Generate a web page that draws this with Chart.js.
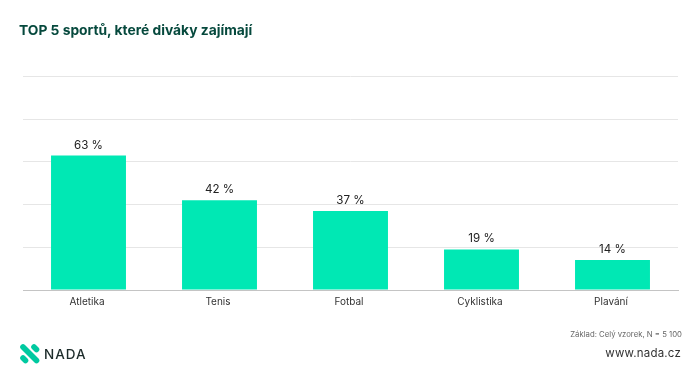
<!DOCTYPE html>
<html lang="cs">
<head>
<meta charset="utf-8">
<script src="https://cdn.jsdelivr.net/npm/chart.js@4"></script>
<style>
html,body{margin:0;padding:0;background:#fff;width:700px;height:374px;overflow:hidden;font-family:Inter,sans-serif}
#wrap{position:relative;width:700px;height:374px}
canvas{position:absolute;left:0;top:0}
.t{position:absolute;white-space:nowrap;line-height:1}
#title{left:19px;top:23.5px;font-size:13.8px;font-weight:700;color:#06493d}
#base{right:18px;top:331px;font-size:7.75px;color:#666}
#web{right:19px;top:348px;font-size:11.5px;color:#333;letter-spacing:.2px}
#nada{left:44px;top:347.5px;font-size:13.5px;font-weight:500;color:#1c2b2a;letter-spacing:1px}
#logo{position:absolute;left:20px;top:344px}
</style>
</head>
<body>
<div id="wrap">
<canvas id="c" width="700" height="374"></canvas>
<div class="t" id="title">TOP 5 sportů, které diváky zajímají</div>
<div class="t" id="base">Základ: Celý vzorek, N = 5 100</div>
<div class="t" id="web">www.nada.cz</div>
<svg id="logo" width="20" height="20" viewBox="0 0 20 20">
<g stroke="#00c9a0" stroke-width="5.6" stroke-linecap="round" fill="none">
<line x1="3" y1="3" x2="16.5" y2="16.5"/>
<line x1="3" y1="14" x2="5.5" y2="16.5"/>
<line x1="14" y1="3" x2="16.5" y2="5.5"/>
</g>
</svg>
<div class="t" id="nada">NADA</div>
</div>
<script>
const categories = ["Atletika", "Tenis", "Fotbal", "Cyklistika", "Plavání"];
const shares = [63, 42, 37, 19, 14];
const yTicks = [0, 20, 40, 60, 80, 100];

const valueLabels = {
  id: "valueLabels",
  afterDatasetsDraw(chart) {
    const { ctx } = chart;
    const meta = chart.getDatasetMeta(0);
    ctx.save();
    ctx.font = "11.6px Inter, sans-serif";
    ctx.fillStyle = "#222";
    ctx.textAlign = "center";
    ctx.textBaseline = "alphabetic";
    meta.data.forEach((bar, i) => {
      ctx.fillText(shares[i] + " %", bar.x, bar.y - 7);
    });
    ctx.restore();
  }
};

new Chart(document.getElementById("c"), {
  type: "bar",
  data: {
    labels: categories,
    datasets: [{
      data: shares,
      backgroundColor: "#00e8b4",
      barPercentage: 0.572,
      categoryPercentage: 1
    }]
  },
  options: {
    responsive: false,
    animation: false,
    layout: { padding: { left: 23, right: 22, top: 76.6, bottom: 0 } },
    plugins: { legend: { display: false }, title: { display: false }, tooltip: { enabled: false } },
    scales: {
      x: {
        afterFit(s) { s.height = 84; },
        grid: { display: false, drawTicks: false },
        border: { color: "#c4c4c4", width: 1 },
        ticks: { color: "#333", font: { family: "Inter, sans-serif", size: 10 }, padding: 6, maxRotation: 0, labelOffset: -1.5 }
      },
      y: {
        min: 0,
        max: 100,
        afterFit(s) { s.width = 0; },
        afterBuildTicks(s) { s.ticks = yTicks.map(v => ({ value: v })); },
        grid: { color: "#e6e6e6", lineWidth: 1, drawTicks: false },
        border: { display: false },
        ticks: { display: false }
      }
    }
  },
  plugins: [valueLabels]
});
</script>
</body>
</html>
